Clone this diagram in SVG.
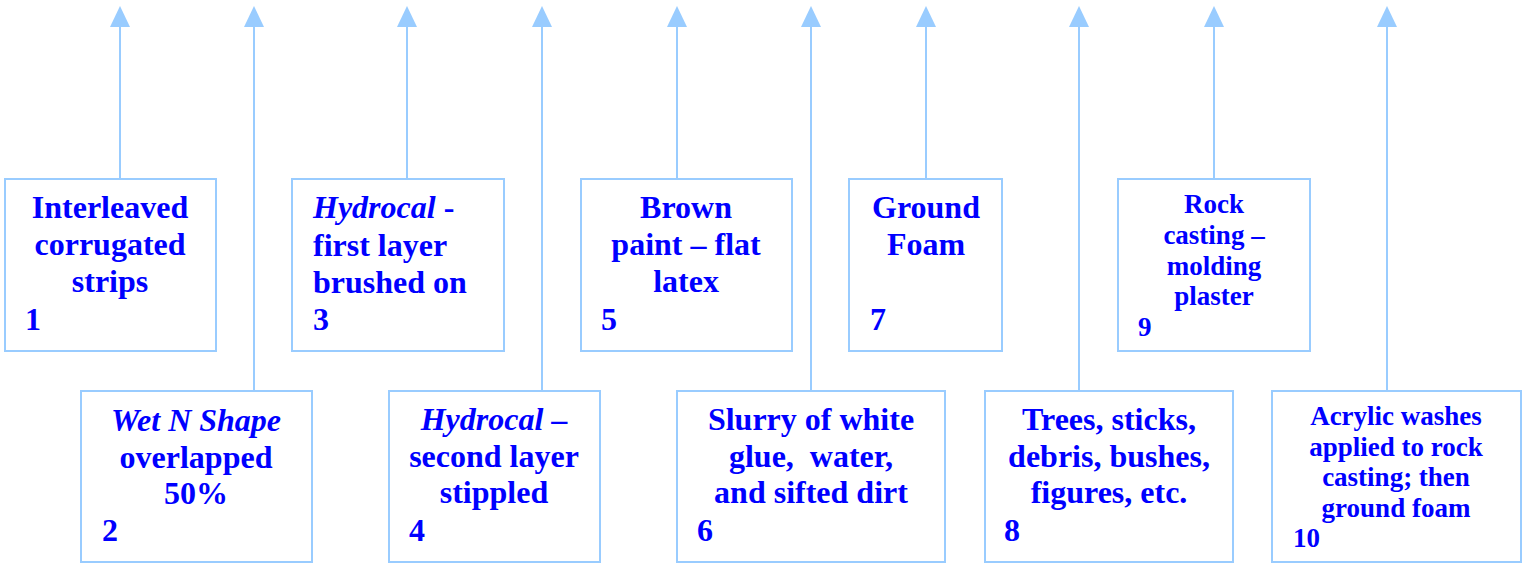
<svg xmlns="http://www.w3.org/2000/svg" width="1522" height="563" viewBox="0 0 1522 563">
<style>
.box{fill:#fff;stroke:#99ccff;stroke-width:2}
.con{stroke:#99ccff;stroke-width:2;fill:none}
text{font-family:"Liberation Serif","Times New Roman",serif;font-weight:bold;fill:#0000ff;font-size:32px}
.c{text-anchor:middle}
.s{font-size:27px}
.i{font-style:italic}
</style>
<g id="connectors">
<path class="con" d="M120,179 V27"/>
<path class="con" d="M254,391 V27"/>
<path class="con" d="M407,179 V27"/>
<path class="con" d="M542,391 V27"/>
<path class="con" d="M677,179 V27"/>
<path class="con" d="M811,391 V27"/>
<path class="con" d="M926,179 V27"/>
<path class="con" d="M1079,391 V27"/>
<path class="con" d="M1214,179 V27"/>
<path class="con" d="M1387,391 V27"/>
<g fill="#99ccff">
<path d="M110,27 L120,6 L130,27 z"/>
<path d="M244,27 L254,6 L264,27 z"/>
<path d="M397,27 L407,6 L417,27 z"/>
<path d="M532,27 L542,6 L552,27 z"/>
<path d="M667,27 L677,6 L687,27 z"/>
<path d="M801,27 L811,6 L821,27 z"/>
<path d="M916,27 L926,6 L936,27 z"/>
<path d="M1069,27 L1079,6 L1089,27 z"/>
<path d="M1204,27 L1214,6 L1224,27 z"/>
<path d="M1377,27 L1387,6 L1397,27 z"/>
</g>
</g>
<g id="n1">
<rect class="box" x="5" y="179" width="211" height="172"/>
<text class="c" x="110" y="218">Interleaved</text>
<text class="c" x="110" y="255">corrugated</text>
<text class="c" x="110" y="292">strips</text>
<text x="25" y="330">1</text>
</g>
<g id="n2">
<rect class="box" x="81" y="391" width="231" height="171"/>
<text class="c i" x="196" y="431">Wet N Shape</text>
<text class="c" x="196" y="468">overlapped</text>
<text class="c" x="196" y="504">50%</text>
<text x="102" y="541">2</text>
</g>
<g id="n3">
<rect class="box" x="292" y="179" width="212" height="172"/>
<text x="313" y="218"><tspan class="i">Hydrocal</tspan> -</text>
<text x="313" y="256">first layer</text>
<text x="313" y="293">brushed on</text>
<text x="313" y="330">3</text>
</g>
<g id="n4">
<rect class="box" x="389" y="391" width="211" height="171"/>
<text class="c" x="494" y="430"><tspan class="i">Hydrocal</tspan> –</text>
<text class="c" x="494" y="467">second layer</text>
<text class="c" x="494" y="503">stippled</text>
<text x="409" y="541">4</text>
</g>
<g id="n5">
<rect class="box" x="581" y="179" width="211" height="172"/>
<text class="c" x="686" y="218">Brown</text>
<text class="c" x="686" y="255">paint – flat</text>
<text class="c" x="686" y="292">latex</text>
<text x="601" y="330">5</text>
</g>
<g id="n6">
<rect class="box" x="677" y="391" width="268" height="171"/>
<text class="c" x="811" y="430">Slurry of white</text>
<text class="c" x="811" y="467" xml:space="preserve">glue,  water,</text>
<text class="c" x="811" y="503">and sifted dirt</text>
<text x="697" y="541">6</text>
</g>
<g id="n7">
<rect class="box" x="849" y="179" width="153" height="172"/>
<text class="c" x="926" y="218">Ground</text>
<text class="c" x="926" y="255">Foam</text>
<text x="870" y="330">7</text>
</g>
<g id="n8">
<rect class="box" x="985" y="391" width="248" height="171"/>
<text class="c" x="1109" y="430">Trees, sticks,</text>
<text class="c" x="1109" y="467">debris, bushes,</text>
<text class="c" x="1109" y="503">figures, etc.</text>
<text x="1004" y="541">8</text>
</g>
<g id="n9">
<rect class="box" x="1118" y="179" width="192" height="172"/>
<text class="c s" x="1214" y="213">Rock</text>
<text class="c s" x="1214" y="244">casting –</text>
<text class="c s" x="1214" y="275">molding</text>
<text class="c s" x="1214" y="305">plaster</text>
<text class="s" x="1138" y="336">9</text>
</g>
<g id="n10">
<rect class="box" x="1272" y="391" width="249" height="171"/>
<text class="c s" x="1396" y="425">Acrylic washes</text>
<text class="c s" x="1396" y="456">applied to rock</text>
<text class="c s" x="1396" y="486">casting; then</text>
<text class="c s" x="1396" y="517">ground foam</text>
<text class="s" x="1293" y="547">10</text>
</g>
</svg>
